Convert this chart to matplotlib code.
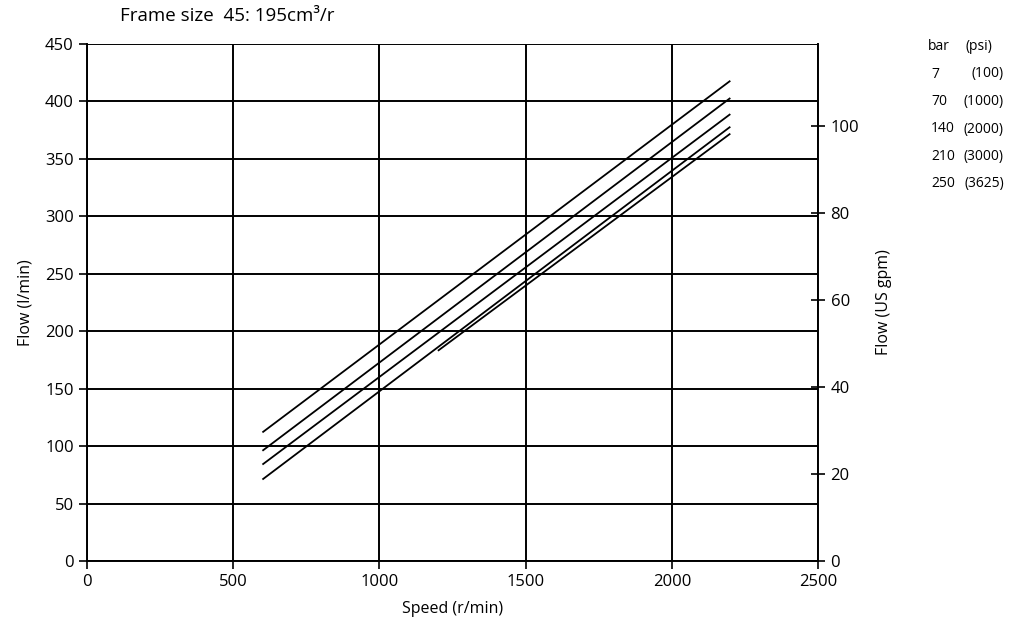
import matplotlib.pyplot as plt

plt.rcParams['font.family'] = ['Open Sans', 'DejaVu Sans']

# pressure curves, speed (r/min) vs flow (l/min)
curves = [
    ([600, 2200], [112, 418]),   # 7 bar
    ([600, 2200], [96, 403]),    # 70 bar
    ([600, 2200], [84, 389]),    # 140 bar
    ([600, 2200], [71, 378]),    # 210 bar
    ([1200, 2200], [183, 372]),  # 250 bar
]
bar_labels = ['7', '70', '140', '210', '250']
psi_labels = ['(100)', '(1000)', '(2000)', '(3000)', '(3625)']
x_ticks = [0, 500, 1000, 1500, 2000, 2500]
y_ticks = list(range(0, 451, 50))
gpm_ticks = [0, 20, 40, 60, 80, 100]
LPM_PER_GPM = 3.785

fig = plt.figure(figsize=(10.29, 6.34), dpi=100)
ax = fig.add_axes([0.0845, 0.115, 0.7105, 0.8156])

for xs, ys in curves:
    ax.plot(xs, ys, color='black', lw=1.3, solid_capstyle='butt')

ax.set_xlim(0, 2500)
ax.set_ylim(0, 450)
ax.set_xticks(x_ticks)
ax.set_yticks(y_ticks)
ax.grid(True, color='black', lw=1.4)
for s in ax.spines.values():
    s.set_linewidth(1.4)
ax.spines['top'].set_visible(False)
ax.spines['right'].set_visible(False)
ax.tick_params(labelsize=12, width=1.2, length=6, direction='out')
ax.set_xlabel('Speed (r/min)', fontsize=11.5, labelpad=8)
ax.set_ylabel('Flow (l/min)', fontsize=11.5, labelpad=8)

ax2 = ax.twinx()
ax2.set_ylim(0, 450 / LPM_PER_GPM)
ax2.set_yticks(gpm_ticks)
for s in ['top', 'left', 'bottom']:
    ax2.spines[s].set_visible(False)
ax2.spines['right'].set_linewidth(1.4)
ax2.tick_params(labelsize=12, width=1.2, length=10, direction='inout', pad=4)
ax2.set_ylabel('Flow (US gpm)', fontsize=11.5, labelpad=12)

fig.text(120 / 1029, 1 - 21 / 634, 'Frame size  45: 195cm³/r', fontsize=13.5,
         ha='left', va='baseline')

fig.text(928 / 1029, 1 - 50 / 634, 'bar', fontsize=10, ha='left', va='baseline')
fig.text(966 / 1029, 1 - 50 / 634, '(psi)', fontsize=10, ha='left', va='baseline')
for i, (b, p) in enumerate(zip(bar_labels, psi_labels)):
    yy = 1 - (77.5 + 27.5 * i) / 634
    fig.text(931 / 1029, yy, b, fontsize=10, ha='left', va='baseline')
    fig.text(1004 / 1029, yy, p, fontsize=10, ha='right', va='baseline')

fig.savefig('out.png', dpi=100)
